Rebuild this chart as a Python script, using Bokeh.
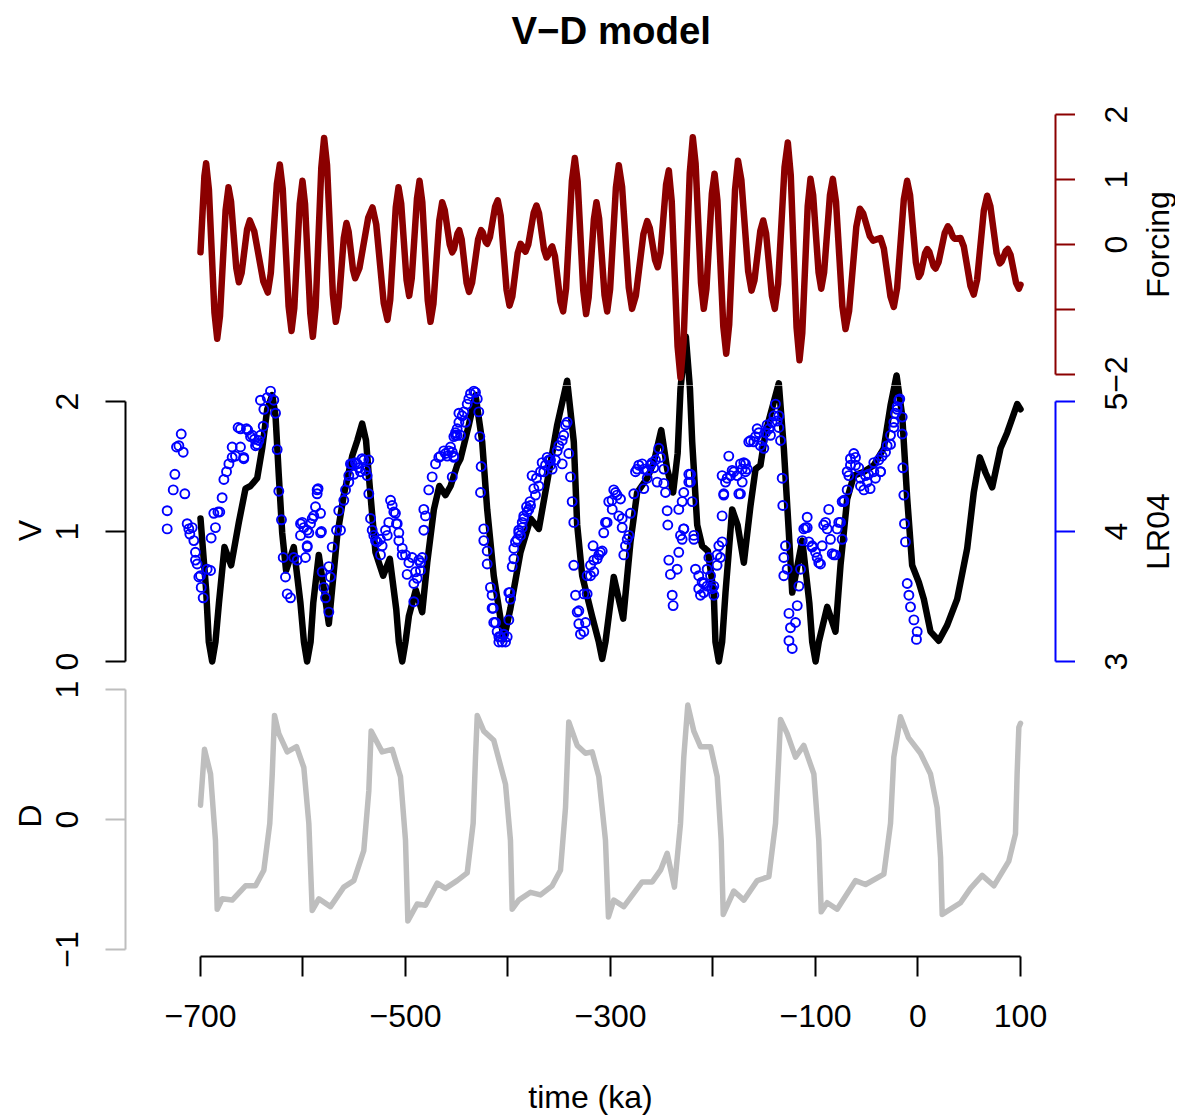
import math
from bokeh.plotting import figure
from bokeh.models import Range1d, LinearAxis, FixedTicker
from bokeh.core.properties import value
from bokeh.layouts import column, row
from bokeh.embed import file_html
from bokeh.resources import INLINE

# ---------------- data ----------------
forcing_t = [-700, -696.2,
             -694.5, -691.8, -686.4, -683.7, -681.0, -675.5, -672.7, -670.2, -665.1,
             -662.6, -659.9, -654.6, -651.9, -647.5, -638.7, -634.3, -631.4, -625.5,
             -622.6, -619.75, -614.05, -611.2, -608.5, -603.2, -600.5, -598.0, -592.9,
             -590.4, -587.65, -582.15, -579.4, -576.55, -570.85, -568, -565.4, -560.2,
             -557.6, -555.5, -551.2, -549.1, -544.9, -536.4, -532.2, -528.55, -521.25,
             -517.6, -514.9, -509.5, -506.8, -504.2, -499.0, -496.4, -493.9, -488.8,
             -486.3, -483.6, -478.3, -475.6, -472.75, -467.05, -464.2, -461.75, -456.85,
             -454.4, -452.7, -449.3, -447.6, -445.2, -440.4, -438, -435.05, -429.15,
             -426.2, -424.7, -421.8, -420.3, -417.7, -412.6, -410, -407.1, -401.4,
             -398.5, -395.8, -390.5, -387.8, -386.6, -384.1, -382.9, -380.2, -374.9,
             -372.2, -369.75, -364.85, -362.4, -361.0, -358.3, -356.9, -354.2, -348.9,
             -346.2, -343.35, -337.65, -334.8, -332.05, -326.55, -323.8, -321.3, -316.2,
             -313.7, -311.1, -305.8, -303.2, -300.4, -294.7, -291.9, -288.7, -282.2,
             -279, -275.3, -267.9, -264.2, -261.6, -256.5, -253.9, -251.2, -245.8,
             -243.1, -240.25, -234.55, -231.7, -228.7, -222.7, -219.7, -217.0, -211.7,
             -209, -206.4, -201.1, -198.5, -195.65, -189.95, -187.1, -184.2, -178.5,
             -175.6, -172.3, -165.7, -162.4, -159.55, -153.85, -151, -148.2, -142.5,
             -139.7, -136.5, -130.2, -127, -124.15, -118.45, -115.6, -112.9, -107.6,
             -104.9, -102.3, -97.0, -94.4, -91.6, -85.9, -83.1, -80.0, -73.8,
             -70.7, -67.2, -60.2, -56.7, -53.5, -47.0, -43.8,
             -36.6, -33.35, -26.85, -23.6, -20.35, -13.85, -10.6, -7.75, -2.05,
             0.8, 2.85, 6.95, 9, 11.0, 15.1, 17.1, 20.1, 26.1,
             29.1, 30.7, 34.0, 35.6,
             41.5, 44.7, 51.2, 54.4, 57.7, 64.2, 67.5, 70.6, 76.7,
             79.8, 81.75, 85.65, 87.6, 90.3, 95.7, 98.4, 100]
forcing_v = [-0.12, 1.05,
             1.25, 0.845, -1.045, -1.45, -1.10, 0.53, 0.88, 0.66, -0.36,
             -0.58, -0.44, 0.23, 0.37, 0.20, -0.57, -0.74, -0.44, 0.93,
             1.23, 0.85, -0.95, -1.33, -0.98, 0.63, 0.98, 0.62, -1.06,
             -1.42, -0.96, 1.18, 1.64, 1.22, -0.77, -1.19, -0.96, 0.10,
             0.33, 0.20, -0.39, -0.52, -0.36, 0.41, 0.57, 0.31, -0.90,
             -1.16, -0.85, 0.57, 0.88, 0.63, -0.54, -0.79, -0.52, 0.71,
             0.98, 0.65, -0.86, -1.19, -0.91, 0.37, 0.65, 0.53, 0.0,
             -0.12, -0.07, 0.17, 0.22, 0.08, -0.59, -0.73, -0.59, 0.08,
             0.22, 0.19, 0.04, 0.01, 0.11, 0.58, 0.68, 0.44, -0.70,
             -0.94, -0.80, -0.13, 0.01, -0.01, -0.09, -0.11, 0.0, 0.49,
             0.60, 0.48, -0.08, -0.20, -0.17, -0.06, -0.03, -0.18, -0.88,
             -1.03, -0.68, 0.98, 1.33, 0.97, -0.71, -1.07, -0.81, 0.39,
             0.65, 0.40, -0.78, -1.03, -0.69, 0.88, 1.22, 0.89, -0.66,
             -0.99, -0.79, 0.16, 0.36, 0.25, -0.24, -0.35, -0.13, 0.92,
             1.14, 0.66, -1.57, -2.05, -1.50, 1.10, 1.65, 1.25, -0.59,
             -0.99, -0.68, 0.78, 1.09, 0.67, -1.26, -1.68, -1.23, 0.84,
             1.29, 0.99, -0.41, -0.71, -0.55, 0.21, 0.37, 0.17, -0.79,
             -0.99, -0.61, 1.19, 1.57, 1.07, -1.28, -1.78, -1.36, 0.59,
             1.01, 0.76, -0.43, -0.68, -0.43, 0.76, 1.01, 0.66, -0.95,
             -1.30, -1.02, 0.27, 0.55, 0.48, 0.13, 0.06,
             0.10, -0.06, -0.80, -0.96, -0.67, 0.69, 0.98, 0.76, -0.28,
             -0.50, -0.44, -0.13, -0.07, -0.11, -0.33, -0.37, -0.27, 0.18,
             0.28, 0.25, 0.12, 0.09,
             0.10, -0.03, -0.64, -0.77, -0.54, 0.52, 0.75, 0.59, -0.13,
             -0.29, -0.26, -0.10, -0.07, -0.16, -0.59, -0.68, -0.62]

v_t = [-700, -694.5, -691.9, -688.6, -685.4, -682, -676.6, -670.1, -662.6, -656.1,
       -651.2, -644.7, -639.8, -634.9, -630, -626.8, -623.6, -620.3, -616.5, -609,
       -602.5, -599.1, -596, -592.6, -590, -584.6, -579.5, -574.8, -566.6, -560.2,
       -552, -547, -542.3, -538.5, -535.8, -529.3, -521.8, -515.3, -509, -506.5,
       -503.2, -500.0, -496.7, -490, -483.7, -478.8, -472.3, -467, -461, -456,
       -449.6, -446.3, -438.2, -431.7, -425.2, -420.3, -413.9, -404.1, -397.6, -387.8,
       -378, -369.9, -361.8, -352, -342.3, -335.8, -332.5, -327.6, -318, -311.4,
       -308.1, -304.9, -296.8, -287.6, -280.5, -274, -264.2, -257.8, -250.5, -244.7,
       -238.9, -234.5, -231.7, -226.5, -222.5, -220.3, -215.4, -210.6, -205, -199.3,
       -197.6, -194.3, -191.1, -187.8, -181.3, -176, -169.9, -163.4, -158.5, -153.7,
       -148.8, -135.8, -130.9, -126, -122.7, -112.9, -106, -103.2, -99.9, -96.8,
       -88.6, -80.5, -75.6, -69.1, -62.6, -52.8, -43.1, -33.4, -26.8, -20.9,
       -15.4, -10.5, -5.7, 0.8, 5.7, 12.2, 20.3, 28.5, 38.2, 48,
       54.4, 60.3, 66, 72.4, 80.5, 87, 91.9, 96.8, 100]
v_v = [1.10, 0.55, 0.15, 0.00, 0.15, 0.45, 0.88, 0.74, 1.07, 1.33,
       1.35, 1.41, 1.64, 1.94, 2.05, 1.89, 1.43, 0.99, 0.70, 0.88,
       0.45, 0.15, 0.00, 0.15, 0.45, 0.82, 0.55, 0.29, 0.97, 1.28,
       1.58, 1.70, 1.83, 1.70, 1.43, 0.84, 0.66, 0.79, 0.40, 0.15,
       0.00, 0.15, 0.35, 0.55, 0.38, 0.76, 1.17, 1.35, 1.28, 1.35,
       1.51, 1.56, 1.82, 2.05, 1.69, 1.17, 0.66, 0.17, 0.41, 0.84,
       1.10, 1.02, 1.38, 1.82, 2.16, 1.69, 1.05, 0.66, 0.35, 0.15,
       0.02, 0.15, 0.65, 0.33, 0.92, 1.30, 1.41, 1.53, 1.78, 1.48,
       1.30, 1.60, 2.10, 2.50, 2.10, 1.69, 1.05, 0.89, 0.85, 0.53,
       0.15, 0.00, 0.15, 0.53, 1.17, 1.05, 0.76, 1.20, 1.48, 1.51,
       1.76, 2.14, 1.64, 0.99, 0.53, 0.93, 0.45, 0.15, 0.00, 0.15,
       0.42, 0.23, 0.74, 1.25, 1.43, 1.46, 1.51, 1.64, 1.97, 2.20,
       1.89, 1.25, 0.74, 0.61, 0.48, 0.23, 0.16, 0.28, 0.48, 0.87,
       1.30, 1.57, 1.45, 1.34, 1.64, 1.76, 1.87, 1.98, 1.94]

lr04_t = [-732.5, -732.5, -726.6, -725.0, -723.4, -718.8, -716.9, -715.3, -713.0, -710.4,
          -708.1, -706.5, -704.9, -703.3, -701.6, -699.3, -697.4, -693.5, -690.2, -689.6,
          -687.0, -685.4, -683.0, -681.2, -678.9, -677.2, -674.6, -672.3, -669.1, -665.9,
          -663.3, -661.0, -657.8, -655.1, -651.2, -644.7, -641.5, -638.8, -638.2, -634.9,
          -631.7, -628.5, -626.8, -625.2, -623.6, -621.0, -619.3, -617.1, -615.4, -612.2,
          -609.0, -605.7, -602.4, -600.8, -597.6, -595.9, -595.9, -591.0, -587.8, -586.2,
          -582.9, -582.0, -581.3, -579.7, -578.0, -574.8, -574.8, -573.2, -571.5, -567.3,
          -565.1, -563.4, -560.2, -558.5, -555.3, -553.7, -547.1, -540.7, -537.4, -535.8,
          -535.8, -534.1, -532.5, -529.3, -524.4, -517.8, -514.6, -511.4, -508.8, -506.5,
          -503.2, -498.4, -491.9, -491.9, -487.0, -485.4, -482.1, -482.1, -480.5, -477.3,
          -474.0, -470.7, -467.5, -461.0, -456.1, -454.4, -452.8, -447.9, -452.8, -449.6,
          -444.7, -439.8, -436.6, -431.7, -428.5, -427.5, -426.2, -426.8, -423.6, -423.6,
          -420.3, -420.3, -417.1, -415.5, -415.5, -412.2, -408.9, -405.7, -400.8, -399.2,
          -398.2, -395.9, -394.3, -392.7, -387.8, -386.1, -381.9, -378.5, -374.8, -369.9,
          -365.1, -358.5, -352.0, -347.1, -342.3, -340.7, -339.0, -337.4, -335.8, -335.8,
          -334.1, -332.5, -329.3, -324.4, -322.8, -319.5, -317.0, -316.3, -309.8, -304.9,
          -298.3, -295.1, -290.2, -288.6, -285.4, -282.1, -280.5, -277.3, -274.0, -267.5,
          -264.2, -259.4, -252.9, -248.0, -246.3, -244.7, -244.1, -243.1, -241.5, -239.8,
          -238.9, -235.0, -233.4, -231.7, -230.1, -228.5, -223.6, -222.0, -220.3, -218.7,
          -217.1, -213.9, -212.2, -209.0, -205.7, -199.2, -196.0, -192.7, -191.1, -191.1,
          -189.5, -186.2, -184.6, -179.7, -173.2, -169.9, -166.6, -165.1, -156.9, -153.7,
          -147.2, -142.3, -139.0, -135.8, -134.1, -132.5, -131.9, -130.9, -129.3, -127.6,
          -130.9, -125.9, -124.4, -125.9, -122.7, -119.5, -117.8, -116.2, -114.6, -112.9,
          -109.8, -108.1, -103.2, -96.8, -92.0, -87.1, -82.2, -77.3, -74.0, -72.4,
          -69.1, -67.5, -65.9, -61.0, -56.1, -49.6, -43.1, -36.6, -31.7, -26.8,
          -23.6, -20.3, -17.8, -15.4, -15.4, -14.8, -13.8, -13.2, -12.2, -10.5,
          -8.9, -7.3, -4.0, -0.8, -1.5]
lr04_v = [4.16, 4.02, 4.32, 4.44, 4.65, 4.75, 4.61, 4.29, 4.06, 3.98,
          4.03, 3.93, 3.84, 3.75, 3.65, 3.57, 3.49, 3.71, 3.70, 3.95,
          4.14, 4.03, 4.15, 4.15, 4.26, 4.40, 4.46, 4.52, 4.65, 4.58,
          4.80, 4.65, 4.57, 4.79, 4.73, 4.67, 5.01, 4.81, 4.94, 5.03,
          5.08, 5.01, 4.91, 4.63, 4.31, 4.09, 3.80, 3.65, 3.52, 3.49,
          3.80, 3.78, 3.97, 4.07, 3.80, 4.01, 3.89, 4.10, 4.19, 4.32,
          4.14, 4.00, 3.69, 3.57, 3.49, 3.38, 3.73, 3.65, 3.88, 4.01,
          4.16, 4.01, 4.24, 4.32, 4.43, 4.52, 4.52, 4.55, 4.43, 4.55,
          4.29, 4.10, 4.01, 3.93, 3.82, 3.97, 4.24, 4.15, 4.06, 3.93,
          3.82, 3.67, 3.60, 3.46, 3.78, 3.70, 4.01, 4.17, 4.12, 4.32,
          4.42, 4.52, 4.57, 4.60, 4.65, 4.42, 4.73, 4.91, 4.58, 4.74,
          4.89, 4.98, 5.06, 5.07, 4.92, 4.73, 4.50, 4.30, 4.02, 3.93,
          3.85, 3.75, 3.57, 3.51, 3.41, 3.30, 3.19, 3.15, 3.19, 3.32,
          3.53, 3.73, 3.79, 3.92, 3.97, 4.07, 4.19, 4.23, 4.33, 4.35,
          4.46, 4.55, 4.62, 4.70, 4.84, 4.60, 4.42, 4.23, 4.07, 3.74,
          3.51, 3.38, 3.21, 3.30, 3.52, 3.66, 3.89, 3.78, 3.84, 4.07,
          4.17, 4.30, 4.25, 4.10, 3.89, 3.97, 4.14, 4.29, 4.48, 4.48,
          4.41, 4.53, 4.64, 4.48, 4.30, 4.16, 4.05, 3.78, 3.67, 3.51,
          3.43, 3.71, 3.84, 3.97, 4.23, 4.02, 4.44, 4.38, 4.23, 3.94,
          3.71, 3.56, 3.51, 3.60, 3.71, 3.58, 3.74, 3.80, 3.92, 4.12,
          4.29, 4.41, 4.58, 4.46, 4.52, 4.53, 4.48, 4.69, 4.79, 4.66,
          4.82, 4.84, 4.98, 4.89, 4.70, 4.41, 4.20, 3.80, 3.89, 3.71,
          3.66, 3.37, 3.26, 3.16, 3.10, 3.30, 3.43, 3.58, 3.71, 3.93,
          4.03, 4.11, 3.89, 3.76, 4.05, 4.17, 3.82, 4.07, 3.94, 4.23,
          4.32, 4.43, 4.56, 4.51, 4.41, 4.38, 4.46, 4.46, 4.61, 4.67,
          4.80, 4.94, 5.02, 4.88, 4.75, 4.49, 4.28, 4.06, 3.92, 3.60,
          3.51, 3.42, 3.32, 3.23, 3.17]

lr04_t_more = [-661.0, -653.9, -649.6, -647.3, -643.1, -641.5, -646.3, -669.1, -657.8, -552.0,
               -548.8, -545.5, -543.9, -539.0, -542.3, -550.4, -555.3, -465.9, -462.6, -459.3,
               -452.8, -457.7, -451.2, -449.6, -454.4, -451.2, -447.9, -443.1, -441.5, -438.2,
               -433.3, -430.0, -446.3, -376.5, -372.2, -368.3, -363.4, -360.2, -356.9, -353.7,
               -350.4, -345.6, -343.9, -347.1, -373.2, -379.7, -384.6, -389.5, -275.6, -272.4,
               -269.1, -264.2, -261.0, -257.8, -256.1, -251.2, -248.0, -254.5, -267.5, -296.8,
               -293.6, -298.5, -301.7, -303.3, -306.6, -291.9, -288.6, -283.7, -287.0, -191.1,
               -187.8, -182.9, -181.3, -176.4, -174.8, -171.5, -168.3, -189.5, -168.3, -171.5,
               -173.2, -163.4, -160.2, -158.5, -155.3, -152.0, -150.4, -148.8, -145.5, -143.9,
               -140.6, -137.4, -135.8, -111.4, -108.1, -106.5, -103.2, -100.0, -98.4, -95.1,
               -93.5, -90.2, -88.6, -85.4, -83.7, -80.5, -78.9, -75.6, -74.0, -72.4,
               -69.1, -65.9, -62.6, -61.0, -57.8, -56.1, -52.8, -51.2, -48.3, -46.7,
               -43.1, -41.5, -38.3, -36.6, -35.0, -30.1, -26.8, -23.6, -22.0, -18.7,
               -20.3, -721.1, -711.4, -704.9, -700.0, -602.4, -599.2, -594.3, -592.7, -589.5,
               -586.2, -585.3, -582.9, -595.9, -530.9, -527.6, -524.4, -522.8, -519.5, -516.3,
               -513.0, -509.8, -508.1, -506.5, -503.2, -500.0, -496.7, -493.5, -490.2, -488.6,
               -485.4, -483.7, -322.8, -319.5, -313.0, -311.4, -308.1, -316.3, -326.0, -330.9,
               -326.0, -330.9, -414.4, -413.9, -410.6, -407.3, -404.1, -402.4, -408.9, -397.6,
               -399.2, -394.3, -391.0, -389.5, -386.1, -384.6, -381.3, -378.0, -366.7, -361.8,
               -358.5, -233.4, -228.5, -223.6, -221.9, -228.5, -230.1, -218.7, -213.9, -210.6,
               -209.0, -205.7, -202.4, -200.8, -199.2, -204.0, -196.0, -194.3]
lr04_v_more = [4.79, 4.78, 4.74, 4.71, 4.70, 4.74, 4.66, 4.57, 4.56, 4.52,
               4.53, 4.49, 4.46, 4.47, 4.56, 4.44, 4.38, 4.58, 4.62, 4.58,
               4.57, 4.62, 4.74, 4.79, 4.61, 4.76, 4.84, 4.92, 4.84, 5.02,
               5.08, 5.02, 4.74, 4.43, 4.41, 4.46, 4.51, 4.55, 4.48, 4.55,
               4.66, 4.74, 4.82, 4.52, 4.28, 4.17, 4.12, 3.99, 4.46, 4.51,
               4.52, 4.47, 4.51, 4.49, 4.55, 4.57, 4.37, 4.38, 4.33, 4.32,
               4.28, 4.24, 4.23, 4.07, 3.99, 4.12, 4.03, 3.94, 3.82, 4.43,
               4.38, 4.43, 4.47, 4.43, 4.29, 4.48, 4.52, 4.28, 4.46, 4.38,
               4.29, 4.70, 4.69, 4.73, 4.76, 4.70, 4.64, 4.76, 4.79, 4.74,
               4.89, 4.85, 4.80, 4.02, 4.03, 3.92, 3.88, 3.84, 3.80, 3.75,
               3.89, 4.07, 4.02, 3.94, 3.83, 3.82, 4.02, 4.07, 4.23, 4.24,
               4.46, 4.51, 4.60, 4.57, 4.49, 4.35, 4.32, 4.43, 4.44, 4.33,
               4.53, 4.41, 4.55, 4.46, 4.58, 4.66, 4.74, 4.84, 4.91, 5.01,
               4.96, 4.66, 4.02, 3.78, 3.66, 4.06, 4.03, 3.99, 4.06, 4.12,
               4.29, 4.33, 3.99, 3.88, 3.97, 3.92, 3.94, 3.89, 4.01, 4.07,
               4.20, 4.14, 4.06, 3.99, 3.87, 3.82, 3.76, 3.80, 3.69, 3.64,
               3.76, 3.80, 3.66, 3.74, 3.79, 3.82, 3.85, 3.69, 3.52, 3.39,
               3.23, 3.29, 3.41, 3.30, 3.23, 3.19, 3.21, 3.15, 3.15, 3.48,
               3.53, 3.87, 3.94, 4.01, 4.03, 4.10, 4.15, 4.20, 4.53, 4.57,
               4.51, 4.17, 4.30, 4.38, 4.44, 4.02, 3.94, 3.97, 3.66, 3.61,
               3.53, 3.58, 3.66, 3.56, 3.51, 3.80, 3.82, 3.89]

d_t = [-700, -696.1, -690.2, -685.4, -683.7, -678.8, -669.1, -656.1, -646.3, -638.2,
       -632.4, -630, -627.8, -623.6, -615.4, -606.3, -599.2, -594.3, -591, -584.6,
       -573.2, -560.2, -550.4, -540.7, -535.8, -533.5, -522.8, -513, -504.9, -500,
       -497.7, -488.6, -480.5, -469.1, -461, -449.6, -439.8, -434, -431.7, -430,
       -423.6, -413.9, -402.4, -397.6, -395.9, -389.5, -378, -368.3, -356.9, -348.8,
       -343.9, -340.7, -332.5, -324.4, -317.9, -311.4, -304.9, -302, -296.8, -287,
       -269.1, -259.3, -251.2, -244.7, -237.6, -231.7, -228.5, -224.6, -218.7, -212.2,
       -202.4, -195.9, -192, -190, -179.7, -169.9, -156.9, -145.5, -139, -135.8,
       -134.1, -127.6, -119.5, -111.4, -101.6, -96.8, -94.4, -88.6, -78.9, -60.9,
       -51.2, -33.3, -26.8, -23.6, -17.1, -9.3, 2.4, 12.2, 18.7, 22,
       23.6, 41.5, 51.2, 62.6, 74, 88.6, 95.1, 96.7, 98.4, 100]
d_v = [0.11, 0.54, 0.35, -0.16, -0.69, -0.61, -0.62, -0.51, -0.51, -0.39,
       -0.03, 0.35, 0.80, 0.66, 0.52, 0.56, 0.40, -0.03, -0.70, -0.61,
       -0.67, -0.52, -0.47, -0.24, 0.22, 0.68, 0.52, 0.54, 0.33, -0.16,
       -0.78, -0.65, -0.66, -0.49, -0.53, -0.47, -0.41, -0.03, 0.48, 0.80,
       0.68, 0.61, 0.27, -0.16, -0.69, -0.62, -0.56, -0.58, -0.51, -0.39,
       0.09, 0.75, 0.57, 0.51, 0.52, 0.33, -0.16, -0.75, -0.62, -0.67,
       -0.48, -0.48, -0.39, -0.26, -0.52, -0.03, 0.48, 0.88, 0.68, 0.56,
       0.56, 0.33, -0.16, -0.73, -0.55, -0.62, -0.47, -0.44, -0.03, 0.48,
       0.77, 0.66, 0.48, 0.57, 0.35, -0.16, -0.71, -0.64, -0.69, -0.47,
       -0.50, -0.42, -0.03, 0.48, 0.79, 0.63, 0.51, 0.35, 0.09, -0.29,
       -0.73, -0.64, -0.53, -0.43, -0.51, -0.32, -0.11, 0.35, 0.71, 0.74]

time_ticks = [-700, -600, -500, -400, -300, -200, -100, 0, 100]
time_labels = ["\u2212700", "", "\u2212500", "", "\u2212300", "", "\u2212100", "0", "100"]
forcing_ticks = [-2, -1, 0, 1, 2]
forcing_labels = ["\u22122", "", "0", "1", "2"]
v_ticks = [0, 1, 2]
v_labels = ["0", "1", "2"]
lr04_ticks = [3, 4, 5]
lr04_labels = ["3", "4", "5"]
d_ticks = [-1, 0, 1]
d_labels = ["\u22121", "0", "1"]


def paired(a, b):
    n = min(len(a), len(b))
    return list(a[:n]), list(b[:n])


forcing_t, forcing_v = paired(forcing_t, forcing_v)
v_t, v_v = paired(v_t, v_v)
d_t, d_v = paired(d_t, d_v)
lt1, lv1 = paired(lr04_t, lr04_v)
lt2, lv2 = paired(lr04_t_more, lr04_v_more)
lr_x = lt1 + lt2
lr_y = lv1 + lv2

# ---------------- styling ----------------
FONT = "Liberation Sans"
FS = "32px"
DARKRED = "#8B0000"
BLUE = "#0000FF"
GRAY = "#BEBEBE"
X_RANGE = (-773.17, 134.15)
FRAME_W = 930
LEFT_B = 125
RIGHT_B = 20          # room for the outward ticks of the right-hand axes
SIDE_X0 = LEFT_B + FRAME_W + RIGHT_B   # page x where the side text strip starts
SIDE_W = 100
TICK_LABEL_PX = 1115  # page x of right-hand tick labels
AXIS_LABEL_PX = 1157  # page x of right-hand axis titles


def make_fig(frame_h, y_range, top=0, bottom=0):
    p = figure(frame_width=FRAME_W, frame_height=frame_h,
               x_range=Range1d(*X_RANGE), y_range=Range1d(*y_range),
               x_axis_location=None, y_axis_location=None,
               output_backend="svg", toolbar_location=None,
               min_border_left=LEFT_B, min_border_right=RIGHT_B,
               min_border_top=top, min_border_bottom=bottom)
    p.outline_line_color = None
    p.grid.visible = False
    p.background_fill_color = "white"
    p.border_fill_color = "white"
    return p


def style_axis(ax, ticks, labels, color, label_text):
    ax.ticker = FixedTicker(ticks=ticks, minor_ticks=[])
    ax.major_label_overrides = {t: l for t, l in zip(ticks, labels)}
    ax.axis_line_color = color
    ax.axis_line_width = 2
    ax.major_tick_line_color = color
    ax.major_tick_line_width = 2
    ax.major_tick_out = 20
    ax.major_tick_in = 0
    ax.minor_tick_out = 0
    ax.minor_tick_in = 0
    ax.major_label_text_font = FONT
    ax.major_label_text_font_size = FS
    ax.major_label_text_color = "black"
    ax.axis_label = label_text
    ax.axis_label_text_font = FONT
    ax.axis_label_text_font_size = FS
    ax.axis_label_text_font_style = "normal"
    ax.axis_label_text_color = "black"
    ax.bounds = (ticks[0], ticks[-1])


def right_axis(p, ticks, color, y_range_name="default"):
    # ticks and line only; the texts go into the side strip (read bottom-to-top there)
    ax = LinearAxis(y_range_name=y_range_name)
    style_axis(ax, ticks, ["" for _ in ticks], color, None)
    ax.major_label_text_font_size = "0px"
    ax.major_label_standoff = 0
    p.add_layout(ax, "right")
    return ax


# page coordinates of the reference -> data ranges
# Forcing: 0 at y=244, 65 px/unit ; V: 0 at y=661, 130 px/unit ; D: 0 at y=819, 130 px/unit
F1_TOP, F1_BOT = 57, 385
F2_TOP, F2_BOT = 385, 675
F3_TOP, F3_BOT = 675, 956


def rng(top, bot, zero, ppu):
    return ((zero - bot) / ppu, (zero - top) / ppu)


line_kw = dict(line_join="round", line_cap="round")

# ---- panel 1: forcing ----
p1 = make_fig(F1_BOT - F1_TOP, rng(F1_TOP, F1_BOT, 244, 65), top=F1_TOP)
p1.extra_y_ranges = {"v": Range1d(*rng(F1_TOP, F1_BOT, 661, 130))}
p1.line(v_t, v_v, y_range_name="v", line_color="black", line_width=6.5, **line_kw)
p1.line(forcing_t, forcing_v, line_color=DARKRED, line_width=6.5, **line_kw)
right_axis(p1, forcing_ticks, DARKRED)
p1.title.text = "V\u2212D model"
p1.title.text_font = FONT
p1.title.text_font_size = "38.4px"
p1.title.text_font_style = "bold"
p1.title.text_color = "black"
p1.title.align = "left"
p1.title.offset = 386
p1.title.standoff = 11

# ---- panel 2: V and LR04 ----
p2 = make_fig(F2_BOT - F2_TOP, rng(F2_TOP, F2_BOT, 661, 130))
p2.extra_y_ranges = {"lr": Range1d(*[3 + v for v in rng(F2_TOP, F2_BOT, 661, 130)]),
                     "f": Range1d(*rng(F2_TOP, F2_BOT, 244, 65))}
p2.line(v_t, v_v, line_color="black", line_width=6.5, **line_kw)
p2.scatter(lr_x, lr_y, y_range_name="lr", marker="circle", size=9,
           fill_color=None, line_color=BLUE, line_width=1.9)
p2.line(forcing_t, forcing_v, y_range_name="f", line_color=DARKRED, line_width=6.5, **line_kw)
ax_v = LinearAxis()
style_axis(ax_v, v_ticks, v_labels, "black", "V")
ax_v.major_label_orientation = "vertical"
ax_v.major_label_standoff = 28
ax_v.axis_label_standoff = 5
p2.add_layout(ax_v, "left")
right_axis(p2, lr04_ticks, BLUE, "lr")

# ---- panel 3: D ----
p3 = make_fig(F3_BOT - F3_TOP, rng(F3_TOP, F3_BOT, 819, 130), bottom=155)
p3.line(d_t, d_v, line_color=GRAY, line_width=5.5, **line_kw)
ax_d = LinearAxis()
style_axis(ax_d, d_ticks, d_labels, GRAY, "D")
ax_d.major_label_orientation = "vertical"
ax_d.major_label_standoff = 28
ax_d.axis_label_standoff = 5
p3.add_layout(ax_d, "left")
ax_t = LinearAxis()
style_axis(ax_t, time_ticks, time_labels, "black", "time (ka)")
ax_t.major_label_standoff = 28
ax_t.axis_label_standoff = 49
p3.add_layout(ax_t, "below")

# ---- side strip with the right-hand axis texts (upward reading, centred on ticks) ----
S_TOP, S_BOT = F1_TOP, F2_BOT
side = figure(frame_width=SIDE_W, frame_height=S_BOT - S_TOP,
              x_range=Range1d(SIDE_X0, SIDE_X0 + SIDE_W),
              y_range=Range1d(*rng(S_TOP, S_BOT, 244, 65)),
              x_axis_location=None, y_axis_location=None,
              output_backend="svg", toolbar_location=None,
              min_border_left=0, min_border_right=0,
              min_border_top=S_TOP, min_border_bottom=0)
side.outline_line_color = None
side.grid.visible = False
side.extra_y_ranges = {"lr": Range1d(*[3 + v for v in rng(S_TOP, S_BOT, 661, 130)])}
txt_kw = dict(angle=math.pi / 2, text_align="center", text_baseline="middle",
              text_font=value(FONT), text_font_size=value(FS), text_color="black")
f_ticks_shown = [t for t, l in zip(forcing_ticks, forcing_labels) if l]
f_labels_shown = [l for l in forcing_labels if l]
side.text(x=[TICK_LABEL_PX] * len(f_ticks_shown), y=f_ticks_shown, text=f_labels_shown, **txt_kw)
side.text(x=[TICK_LABEL_PX] * len(lr04_ticks), y=lr04_ticks, text=lr04_labels,
          y_range_name="lr", **txt_kw)
side.text(x=[AXIS_LABEL_PX], y=[0], text=["Forcing"], **txt_kw)
side.text(x=[AXIS_LABEL_PX], y=[4], text=["LR04"], y_range_name="lr", **txt_kw)

page = row(column(p1, p2, p3, spacing=0), side, spacing=0)
open("out.html", "w").write(file_html(page, INLINE))
